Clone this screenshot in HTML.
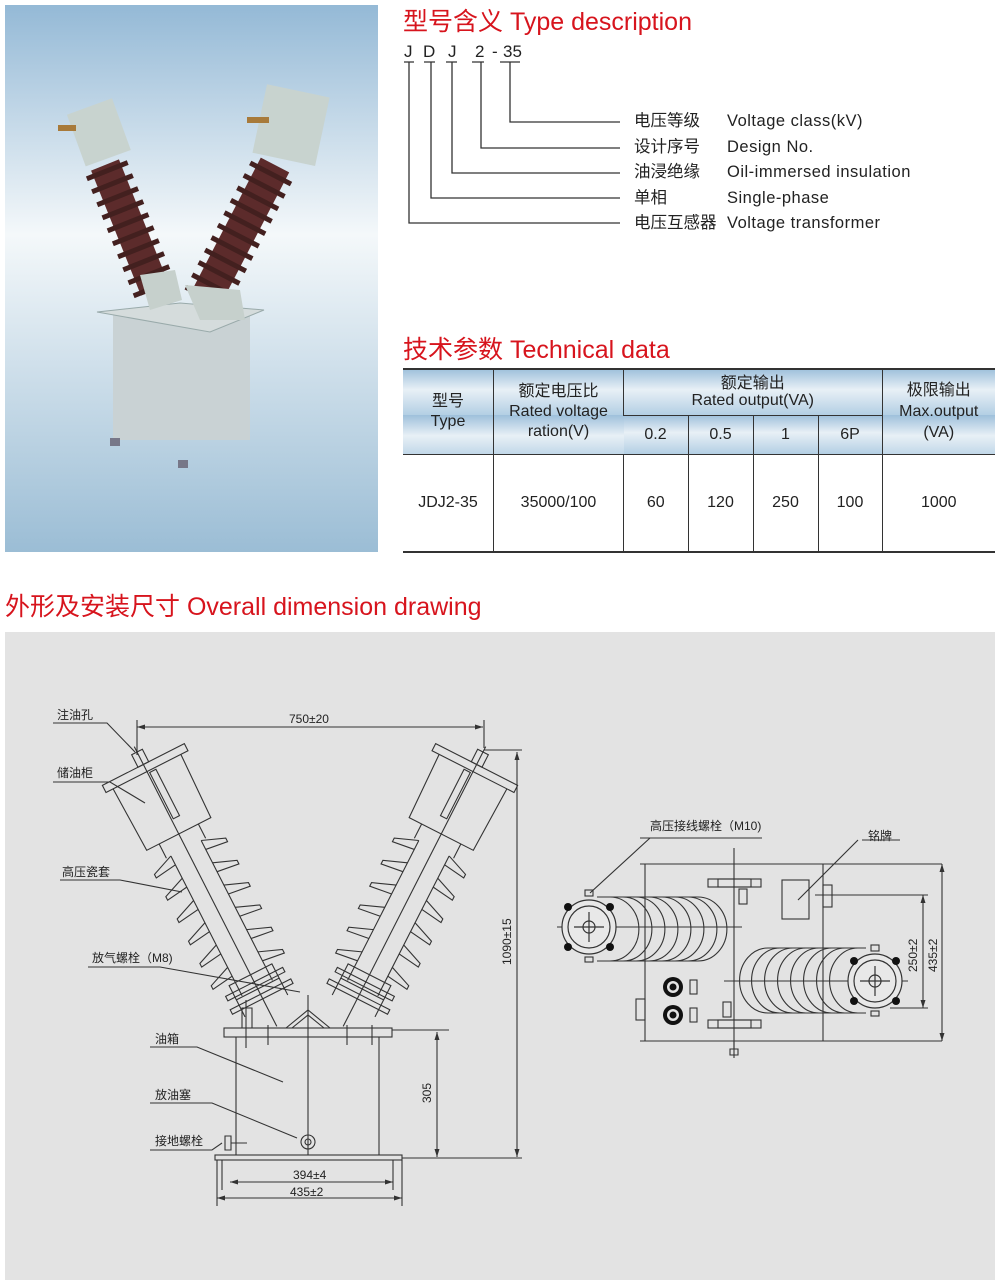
<!DOCTYPE html>
<html><head><meta charset="utf-8"><style>
body{margin:0;width:1000px;height:1285px;background:#fff;position:relative;font-family:"Liberation Sans","Noto Sans CJK SC",sans-serif;overflow:hidden}
.t{position:absolute;white-space:nowrap}
.red{color:#d7141d;font-size:25px}
table{position:absolute;left:403px;top:368px;width:592px;border-collapse:collapse;font-size:16px;color:#222}
td{border-left:1.5px solid #333;text-align:center;padding:0;line-height:20px}
td:first-child{border-left:none}
.h{background:linear-gradient(#9ec0db,#e8f0f6 45%,#b3cfe4)}
.c{position:absolute;top:42px;font-size:17px;color:#222}
</style></head><body>
<svg style="position:absolute;left:0;top:0" width="400" height="560">
<defs><linearGradient id="bg" x1="0" y1="0" x2="0" y2="1">
<stop offset="0" stop-color="#94b9d6"/><stop offset="0.42" stop-color="#f4f8fa"/><stop offset="1" stop-color="#9bbdd5"/></linearGradient></defs>
<rect x="5" y="5" width="373" height="547" fill="url(#bg)"/>
<rect x="113" y="315" width="137" height="125" fill="#c9d2d4"/>
<polygon points="97,312 180,303 264,310 210,332" fill="#d5dcdc" stroke="#9aa" stroke-width="1"/>
<rect x="110" y="438" width="10" height="8" fill="#778"/><rect x="178" y="460" width="10" height="8" fill="#778"/>
<line x1="155" y1="290" x2="105" y2="165" stroke="#5c2b2b" stroke-width="30"/>
<line x1="155" y1="290" x2="105" y2="165" stroke="#43201f" stroke-width="44" stroke-dasharray="5 9"/>
<line x1="205" y1="300" x2="275" y2="165" stroke="#5c2b2b" stroke-width="32"/>
<line x1="205" y1="300" x2="275" y2="165" stroke="#43201f" stroke-width="46" stroke-dasharray="5 9"/>
<polygon points="140,275 175,270 182,300 150,310" fill="#c6d0cc"/>
<polygon points="185,285 240,290 245,320 200,320" fill="#c6d0cc"/>
<g transform="translate(98,130) rotate(-20)"><rect x="-24" y="-25" width="48" height="55" fill="#c8d3cf"/></g>
<g transform="translate(290,130) rotate(12)"><rect x="-32" y="-40" width="64" height="70" fill="#c8d3cf"/></g>
<rect x="58" y="125" width="18" height="6" fill="#a87a3a"/><rect x="247" y="117" width="22" height="6" fill="#a87a3a"/>
</svg>

<div class="t red" style="left:403px;top:2px">型号含义 Type description</div>
<div class="c" style="left:404px">J</div>
<div class="c" style="left:423px">D</div>
<div class="c" style="left:448px">J</div>
<div class="c" style="left:475px">2</div>
<div class="c" style="left:492px">-</div>
<div class="c" style="left:503px">35</div>
<svg style="position:absolute;left:395px;top:55px" width="240" height="180" stroke="#333" stroke-width="1.3" fill="none">
<path d="M9 7 H19 M29 7 H40 M51 7 H62 M77 7 H89 M105 7 H125"/>
<path d="M115 7 V67 H225 M86 7 V93 H225 M57 7 V118 H225 M36 7 V143 H225 M14 7 V168 H225"/>
</svg>
<div style="position:absolute;left:634px;top:109px;font-size:16.5px;color:#222;line-height:25.5px">电压等级<br>设计序号<br>油浸绝缘<br>单相<br>电压互感器</div>
<div style="position:absolute;left:727px;top:109px;font-size:16.5px;color:#222;line-height:25.5px;letter-spacing:0.5px">Voltage class(kV)<br>Design No.<br>Oil-immersed insulation<br>Single-phase<br>Voltage transformer</div>

<div class="t red" style="left:403px;top:330px">技术参数 Technical data</div>
<table>
<tr style="height:46px" class="h"><td rowspan="2" style="width:90px;border-top:2px solid #333;border-bottom:1.5px solid #333">型号<br>Type</td>
<td rowspan="2" style="width:129px;border-top:2px solid #333;border-bottom:1.5px solid #333">额定电压比<br>Rated voltage<br>ration(V)</td>
<td colspan="4" style="border-top:2px solid #333;border-bottom:1.5px solid #333;line-height:17px;vertical-align:bottom;padding-bottom:6px">额定输出<br>Rated output(VA)</td>
<td rowspan="2" style="border-top:2px solid #333;border-bottom:1.5px solid #333;line-height:21px">极限输出<br>Max.output<br>(VA)</td></tr>
<tr style="height:39px" class="h"><td style="width:64px;border-bottom:1.5px solid #333">0.2</td><td style="width:64px;border-bottom:1.5px solid #333">0.5</td><td style="width:64px;border-bottom:1.5px solid #333">1</td><td style="width:63px;border-bottom:1.5px solid #333">6P</td></tr>
<tr style="height:98px"><td style="border-bottom:2px solid #333">JDJ2-35</td><td style="border-bottom:2px solid #333">35000/100</td><td style="border-bottom:2px solid #333">60</td><td style="border-bottom:2px solid #333">120</td><td style="border-bottom:2px solid #333">250</td><td style="border-bottom:2px solid #333">100</td><td style="border-bottom:2px solid #333">1000</td></tr>
</table>

<div class="t red" style="left:5px;top:587px">外形及安装尺寸 Overall dimension drawing</div>

<svg style="position:absolute;left:0;top:0" width="1000" height="1285" font-family="Liberation Sans, Noto Sans CJK SC, sans-serif" font-size="12" fill="#222">
<rect x="5" y="632" width="990" height="648" fill="#e3e3e3"/>
<defs>
<g id="bush" stroke="#333" stroke-width="1.1" fill="none">
<rect x="-6" y="0" width="12" height="14"/>
<rect x="-46" y="14" width="92" height="8"/>
<path d="M-38 22 L-36 92 L36 92 L38 22"/>
<rect x="2" y="24" width="7" height="52"/>
<path d="M-22 92 L-22 108 M22 92 L22 108"/>
<path d="M-17 108 V265 M17 108 V265"/>
<path d="M-17 108 L-40 117 L-40 121 L-17 118 M17 108 L40 117 L40 121 L17 118"/>
<path d="M-17 133 L-40 142 L-40 146 L-17 143 M17 133 L40 142 L40 146 L17 143"/>
<path d="M-17 158 L-40 167 L-40 171 L-17 168 M17 158 L40 167 L40 171 L17 168"/>
<path d="M-17 183 L-40 192 L-40 196 L-17 193 M17 183 L40 192 L40 196 L17 193"/>
<path d="M-17 208 L-40 217 L-40 221 L-17 218 M17 208 L40 217 L40 221 L17 218"/>
<path d="M-17 233 L-40 242 L-40 246 L-17 243 M17 233 L40 242 L40 246 L17 243"/>
<rect x="-24" y="250" width="48" height="16"/>
<rect x="-32" y="258" width="64" height="5"/>
<rect x="-34" y="272" width="68" height="5"/>
<path d="M-24 266 L-24 285 M24 266 L24 285"/>
<line x1="0" y1="-6" x2="0" y2="308"/>
</g>
</defs>
<use href="#bush" transform="translate(137,752) rotate(-27)"/>
<use href="#bush" transform="translate(620,0) scale(-1,1) translate(137,752) rotate(-27)"/>
<g stroke="#333" stroke-width="1.1" fill="none">
<rect x="224" y="1028" width="168" height="9"/>
<path d="M236 1037 V1155 M379 1037 V1155"/>
<rect x="215" y="1155" width="187" height="5"/>
<path d="M308 995 V1155 M292 1028 L308 1015 L324 1028 M286 1028 L308 1010 L330 1028"/>
<circle cx="308" cy="1142" r="7"/><circle cx="308" cy="1142" r="3"/>
<path d="M246 1000 V1048 M268 1025 V1045 M347 1025 V1045 M372 1025 V1045 M242 1008 h10 v20 h-10z"/>
<path d="M225 1136 h6 v14 h-6z M231 1143 H247"/>
<path d="M137 720 V755 M484 720 V748 M484 750 H522 M402 1158 H522 M392 1030 H449"/>
<path d="M217 1160 V1206 M402 1160 V1206 M222 1160 V1190 M393 1160 V1190"/>
<path d="M137 727 H483 M517 752 V1157 M437 1032 V1157 M230 1182 H393 M217 1198 H402"/>
<path d="M53 723 H107 L135 752 M53 782 H110 L145 803 M60 880 H120 L182 892 M88 967 H160 L300 992 M150 1047 H197 L283 1082 M150 1103 H212 L297 1138 M150 1150 H212 L222 1143"/>
</g>
<g fill="#333">
<path d="M137 727 l8 -2.5 v5z M483 727 l-8 -2.5 v5z M517 752 l-2.5 8 h5z M517 1157 l-2.5 -8 h5z M437 1032 l-2.5 8 h5z M437 1157 l-2.5 -8 h5z M230 1182 l8 -2.5 v5z M393 1182 l-8 -2.5 v5z M217 1198 l8 -2.5 v5z M402 1198 l-8 -2.5 v5z"/>
</g>
<text x="289" y="723">750±20</text>
<text x="293" y="1179">394±4</text>
<text x="290" y="1196">435±2</text>
<text transform="translate(431,1103) rotate(-90)">305</text>
<text transform="translate(511,965) rotate(-90)">1090±15</text>
<text x="57" y="719">注油孔</text>
<text x="57" y="777">储油柜</text>
<text x="62" y="876">高压瓷套</text>
<text x="92" y="962">放气螺栓（M8)</text>
<text x="155" y="1043">油箱</text>
<text x="155" y="1099">放油塞</text>
<text x="155" y="1145">接地螺栓</text>

<g stroke="#333" stroke-width="1.1" fill="none">
<path d="M645 864 V1041 M823 864 V1041 M640 864 H942 M640 1041 H942 M734 848 V1058"/>
<rect x="782" y="880" width="27" height="39"/>
<rect x="823" y="885" width="9" height="22"/>
<rect x="636" y="999" width="9" height="21"/>
<rect x="708" y="879" width="53" height="8"/><rect x="718" y="879" width="33" height="8"/>
<rect x="708" y="1020" width="53" height="8"/><rect x="718" y="1020" width="33" height="8"/>
<rect x="739" y="889" width="8" height="15"/>
<rect x="723" y="1002" width="8" height="15"/>
<rect x="690" y="980" width="7" height="14"/><rect x="690" y="1008" width="7" height="14"/>
<path d="M597 897 H698 A28 31 0 0 1 698 961 H597"/>
<path d="M610 897 A28 31 0 0 1 610 961 M623 897 A28 31 0 0 1 623 961 M636 897 A28 31 0 0 1 636 961 M649 897 A28 31 0 0 1 649 961 M662 897 A28 31 0 0 1 662 961 M675 897 A28 31 0 0 1 675 961 M688 897 A28 31 0 0 1 688 961"/>
<path d="M866 948 H768 A28 32 0 0 0 768 1013 H866"/>
<path d="M780 948 A28 32 0 0 0 780 1013 M793 948 A28 32 0 0 0 793 1013 M806 948 A28 32 0 0 0 806 1013 M819 948 A28 32 0 0 0 819 1013 M832 948 A28 32 0 0 0 832 1013 M845 948 A28 32 0 0 0 845 1013 M858 948 A28 32 0 0 0 858 1013"/>
<path d="M557 927 H742 M724 981 H908"/>
<path d="M815 895 H928 M890 1008 H928 M923 895 V1008 M942 864 V1041"/>
<path d="M640 838 H762 M650 838 L590 893 M858 840 L798 900 M862 840 H900"/>
<rect x="585" y="890" width="8" height="6"/><rect x="871" y="945" width="8" height="6"/>
<rect x="585" y="957" width="8" height="5"/><rect x="871" y="1011" width="8" height="5"/>
<path d="M734 1041 v8 M730 1049 h8 v6 h-8z"/>
</g>
<g stroke="#333" stroke-width="1.2">
<circle cx="589" cy="927" r="27" fill="#e8e8e8"/><circle cx="589" cy="927" r="21" fill="none"/><circle cx="589" cy="927" r="6" fill="none"/>
<circle cx="875" cy="981" r="27" fill="#e8e8e8"/><circle cx="875" cy="981" r="21" fill="none"/><circle cx="875" cy="981" r="6" fill="none"/>
<path d="M589 912 V942 M574 927 H604 M875 966 V996 M860 981 H890"/>
</g>
<g fill="#111">
<circle cx="568" cy="907" r="4"/><circle cx="610" cy="907" r="4"/><circle cx="568" cy="947" r="4"/><circle cx="610" cy="947" r="4"/>
<circle cx="854" cy="961" r="4"/><circle cx="896" cy="961" r="4"/><circle cx="854" cy="1001" r="4"/><circle cx="896" cy="1001" r="4"/>
<circle cx="673" cy="987" r="10"/><circle cx="673" cy="1015" r="10"/>
</g>
<circle cx="673" cy="987" r="6" fill="#e3e3e3"/><circle cx="673" cy="987" r="3.5" fill="#111"/>
<circle cx="673" cy="1015" r="6" fill="#e3e3e3"/><circle cx="673" cy="1015" r="3.5" fill="#111"/>
<g fill="#333"><path d="M923 895 l-2.5 8 h5z M923 1008 l-2.5 -8 h5z M942 864 l-2.5 8 h5z M942 1041 l-2.5 -8 h5z"/></g>
<text x="650" y="830">高压接线螺栓（M10)</text>
<text x="868" y="840">铭牌</text>
<text transform="translate(917,972) rotate(-90)">250±2</text>
<text transform="translate(937,972) rotate(-90)">435±2</text>
</svg>
</body></html>
